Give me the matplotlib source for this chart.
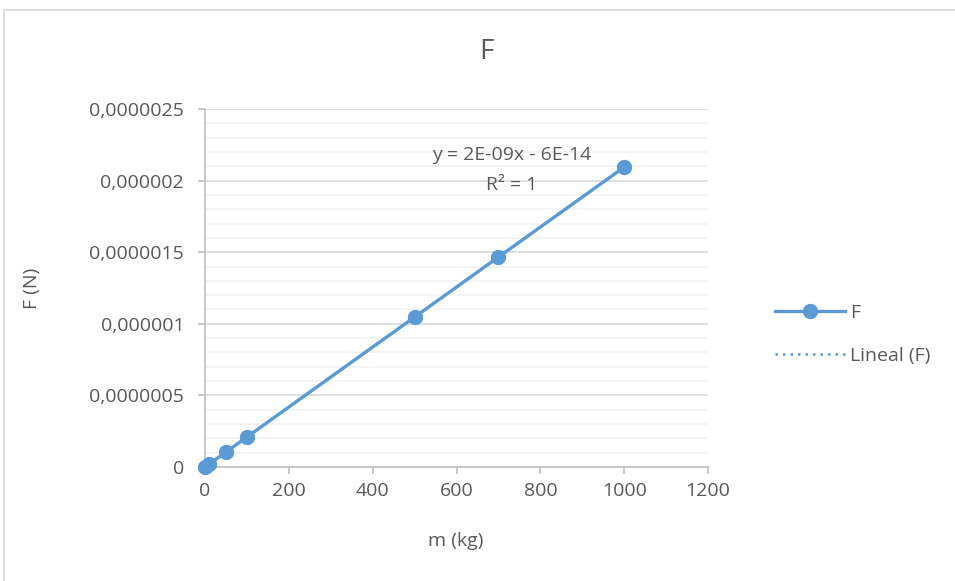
import matplotlib.pyplot as plt
import numpy as np
from matplotlib.patches import Rectangle
from matplotlib.ticker import FuncFormatter, MultipleLocator

plt.rcParams['font.family'] = ['Open Sans', 'DejaVu Sans']

# data
m_kg = [1, 10, 50, 100, 500, 700, 1000]
f_n = [2.09e-9, 2.09e-8, 1.047e-7, 2.094e-7, 1.047e-6, 1.466e-6, 2.094e-6]
x_ticks = [0, 200, 400, 600, 800, 1000, 1200]
y_ticks = [0, 5e-7, 1e-6, 1.5e-6, 2e-6, 2.5e-6]

blue = '#5B9BD5'
txt = '#595959'


def comma_fmt(v, pos):
    if v == 0:
        return '0'
    return f'{v:.7f}'.rstrip('0').replace('.', ',')


fig = plt.figure(figsize=(9.55, 5.81), dpi=100)
fig.patches.append(Rectangle((4 / 955, -0.1), 1.2, 1 - 10 / 581 + 0.1, transform=fig.transFigure,
                             fill=False, edgecolor='#D9D9D9', linewidth=1.2))
ax = fig.add_axes([205 / 955, 1 - 467 / 581, 503 / 955, 358 / 581])

coef = np.polyfit(m_kg, f_n, 1)
xs = np.array([m_kg[0], m_kg[-1]])
ax.plot(m_kg, f_n, color=blue, linewidth=2.4, marker='o', markersize=10, label='F',
        zorder=3, clip_on=False)
ax.plot(xs, np.polyval(coef, xs), color=blue, linestyle=(0, (1, 2)), linewidth=1.8,
        label='Lineal (F)', zorder=4)

ax.set_xlim(0, 1200)
ax.set_ylim(0, 2.5e-6)
ax.set_xticks(x_ticks)
ax.set_yticks(y_ticks)
ax.yaxis.set_minor_locator(MultipleLocator(1e-7))
ax.yaxis.set_major_formatter(FuncFormatter(comma_fmt))
ax.grid(axis='y', which='major', color='#D9D9D9', linewidth=1.2, zorder=0)
ax.grid(axis='y', which='minor', color='#F2F2F2', linewidth=1.2, zorder=0)
ax.set_axisbelow(True)
for s in ['top', 'right']:
    ax.spines[s].set_visible(False)
for s in ['left', 'bottom']:
    ax.spines[s].set_color('#BFBFBF')
    ax.spines[s].set_linewidth(1.2)
ax.tick_params(axis='both', which='major', color='#BFBFBF', length=5, width=1.2,
               labelsize=14, labelcolor=txt)
ax.tick_params(axis='y', which='major', pad=10)
ax.tick_params(axis='x', which='major', pad=6)
ax.tick_params(axis='y', which='minor', length=0)

fig.text(486 / 955, 1 - 52 / 581, 'F', fontsize=20, color=txt, ha='center', va='center')
ax.set_xlabel('m (kg)', fontsize=14, color=txt)
ax.set_ylabel('F (N)', fontsize=14, color=txt)
ax.xaxis.set_label_coords(456 / 955, 1 - 541 / 581, transform=fig.transFigure)
ax.yaxis.set_label_coords(32 / 955, 1 - 288 / 581, transform=fig.transFigure)
ax.xaxis.label.set_va('center')
ax.yaxis.label.set_va('center')

ax.text(732, 2.18e-6, 'y = 2E-09x - 6E-14', ha='center', va='center', fontsize=14, color=txt)
ax.text(732, 1.97e-6, 'R² = 1', ha='center', va='center', fontsize=14, color=txt)

leg = fig.legend(loc='upper left', bbox_to_anchor=(757 / 955, 1 - 286 / 581), frameon=False,
                 fontsize=14, handlelength=3.6, labelspacing=1.3, handletextpad=0.3)
for t in leg.get_texts():
    t.set_color(txt)

fig.savefig('out.png', dpi=100)
